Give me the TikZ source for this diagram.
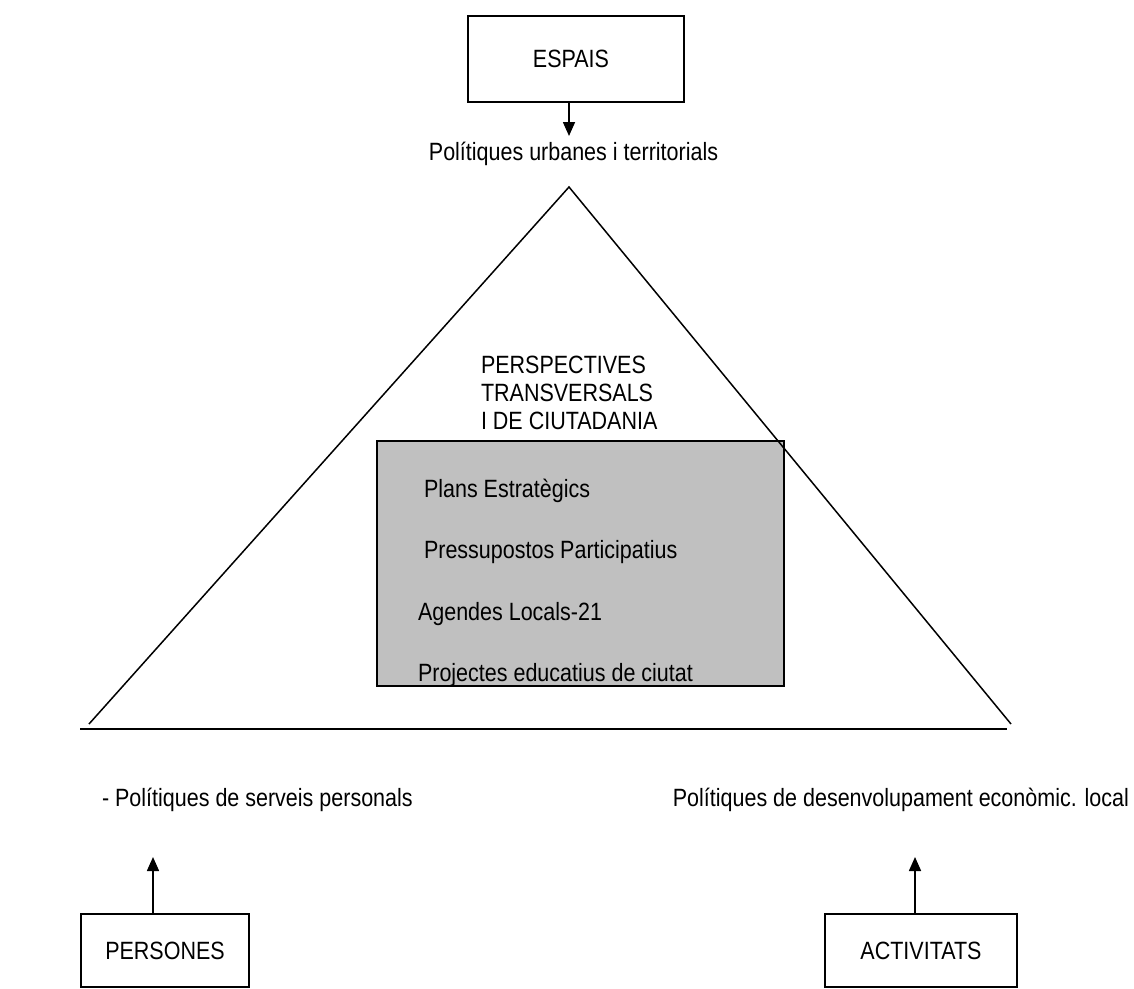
\documentclass[tikz,border=0pt]{standalone}
\usepackage{fontspec}
\setmainfont{Liberation Sans}[FakeStretch=0.86]
\usetikzlibrary{arrows.meta}
\begin{document}
\begin{tikzpicture}[x=1pt,y=-1pt,
  every node/.style={font=\fontsize{25}{28}\selectfont, inner sep=0pt, outer sep=0pt},
  boxnode/.style={draw, line width=2pt, fill=white, anchor=center},
  lbl/.style={anchor=base west},
  arr/.style={line width=1.6pt, -{Triangle[length=14pt,width=12pt]}},
  tri/.style={line width=1.5pt, line join=miter},
  base/.style={line width=2pt}]
\path[use as bounding box] (0,0) rectangle (1134,988);

% boxes
\node[boxnode, minimum width=216pt, minimum height=86pt] (espais) at (576,59) {};
\node at (571,59) (espaist) {ESPAIS};
\node[boxnode, minimum width=168pt, minimum height=73pt] (persones) at (165,950.5) {PERSONES};
\node[boxnode, minimum width=192pt, minimum height=73pt] (activitats) at (921,950.5) {ACTIVITATS};

% grey box
\node[draw, line width=2pt, fill={rgb,255:red,192;green,192;blue,192}, minimum width=407pt, minimum height=245pt, anchor=north west] (grey) at (377,441) {};

% triangle
\coordinate (apex) at (569,187);
\coordinate (bl) at (89,724);
\coordinate (br) at (1011,724);
\draw[tri] (bl) -- (apex) -- (br);
\coordinate (l1) at (80,729);
\coordinate (l2) at (1007,729);
\draw[base] (l1) -- (l2);

% labels
\node[anchor=base] (urb) at (573.5,160) {Polítiques urbanes i territorials};
\node[lbl] (p1) at (481,373) {PERSPECTIVES};
\node[lbl] (p2) at (481,401) {TRANSVERSALS};
\node[lbl] (p3) at (481,429) {I DE CIUTADANIA};
\node[lbl] (g1) at (424,497) {Plans Estratègics};
\node[lbl] (g2) at (424,558) {Pressupostos Participatius};
\node[lbl] (g3) at (418,620) {Agendes Locals-21};
\node[lbl] (g4) at (418,681) {Projectes educatius de ciutat};
\node[lbl] (serv) at (102,806) {- Polítiques de serveis personals};
\node[anchor=base east] (econ) at (1129,806) {Polítiques de desenvolupament econòmic. local};

% arrows
\coordinate (t1) at (569,136);
\coordinate (t2) at (153,857);
\coordinate (t3) at (915,857);
\draw[arr] (espais.south -| t1) -- (t1);
\draw[arr] (persones.north -| t2) -- (t2);
\draw[arr] (activitats.north -| t3) -- (t3);
\end{tikzpicture}
\end{document}
